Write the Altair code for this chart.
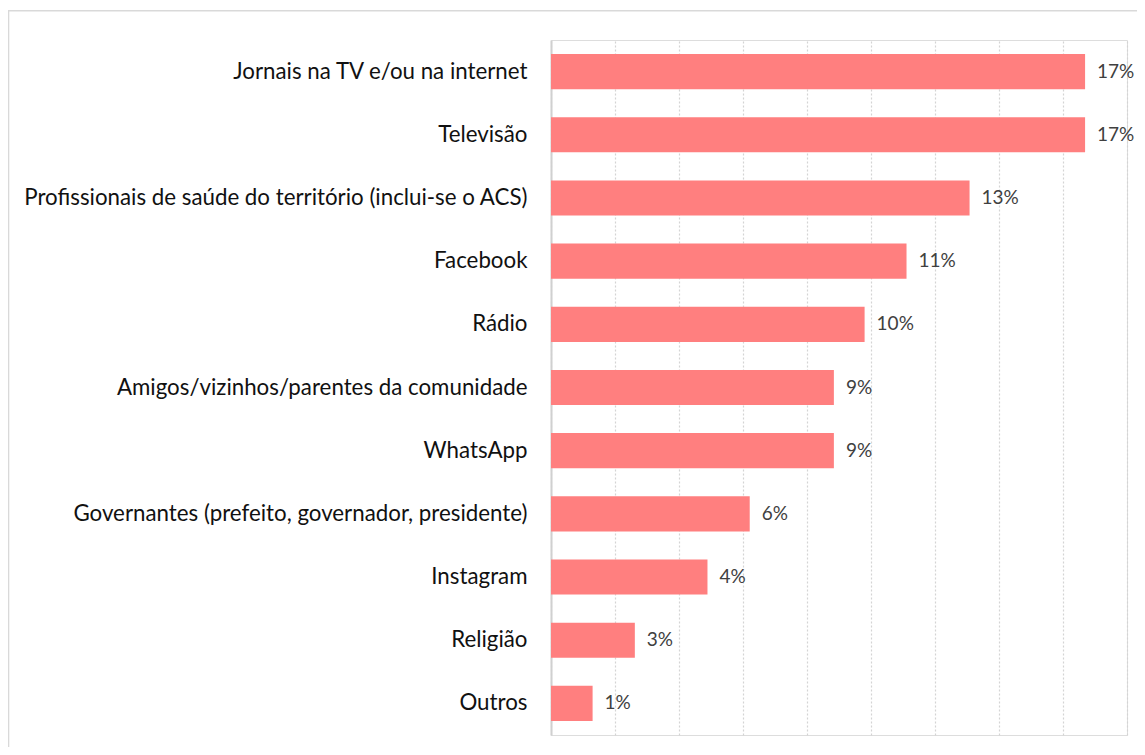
import altair as alt
import pandas as pd

categories = [
    "Jornais na TV e/ou na internet",
    "Televisão",
    "Profissionais de saúde do território (inclui-se o ACS)",
    "Facebook",
    "Rádio",
    "Amigos/vizinhos/parentes da comunidade",
    "WhatsApp",
    "Governantes (prefeito, governador, presidente)",
    "Instagram",
    "Religião",
    "Outros",
]
values = [16.69, 16.69, 13.08, 11.11, 9.80, 8.84, 8.84, 6.21, 4.89, 2.62, 1.30]
value_labels = ["17%", "17%", "13%", "11%", "10%", "9%", "9%", "6%", "4%", "3%", "1%"]
x_ticks = [0, 2, 4, 6, 8, 10, 12, 14, 16, 18]

df = pd.DataFrame({"cat": categories, "val": values, "lab": value_labels})

FONT = "Lato"

y_enc = alt.Y(
    "cat:N",
    sort=categories,
    title=None,
    scale=alt.Scale(paddingInner=0.444, paddingOuter=0.222),
    axis=alt.Axis(
        ticks=False,
        tickSize=0,
        labelPadding=24,
        labelFont=FONT,
        labelFontSize=22.3,
        labelColor="#111111",
        labelLimit=600,
        domainColor="#d0d0d0",
        domainWidth=2,
        grid=False,
    ),
)
x_enc = alt.X(
    "val:Q",
    title=None,
    scale=alt.Scale(domain=[0, 18], nice=False),
    axis=alt.Axis(
        values=x_ticks,
        labels=False,
        ticks=False,
        domain=False,
        grid=True,
        gridColor="#d4d4d4",
        gridDash=[2, 2],
        gridWidth=1.2,
    ),
)

base = alt.Chart(df)

bars = base.mark_bar(color="#FF7F7F").encode(x=x_enc, y=y_enc)

texts = base.mark_text(
    align="left", baseline="middle", dx=12, font=FONT, fontSize=19, color="#404040"
).encode(x=alt.X("val:Q"), y=alt.Y("cat:N", sort=categories), text="lab:N")

frame = alt.Chart(alt.Data(values=[{}])).mark_rect(
    fillOpacity=0, stroke="#d9d9d9", strokeWidth=1.6
).encode(
    x=alt.value(-542.5),
    x2=alt.value(700),
    y=alt.value(-29.3),
    y2=alt.value(800),
)

chart = (
    alt.layer(frame, bars, texts)
    .properties(
        width=576,
        height=695,
        autosize=alt.AutoSizeParams(type="none"),
        padding={"left": 543, "top": 32, "right": 10, "bottom": 12},
    )
    .configure_view(stroke=None)
    .configure(background="white")
)

chart.save("out.html", embed_options={"renderer": "svg", "actions": False})
